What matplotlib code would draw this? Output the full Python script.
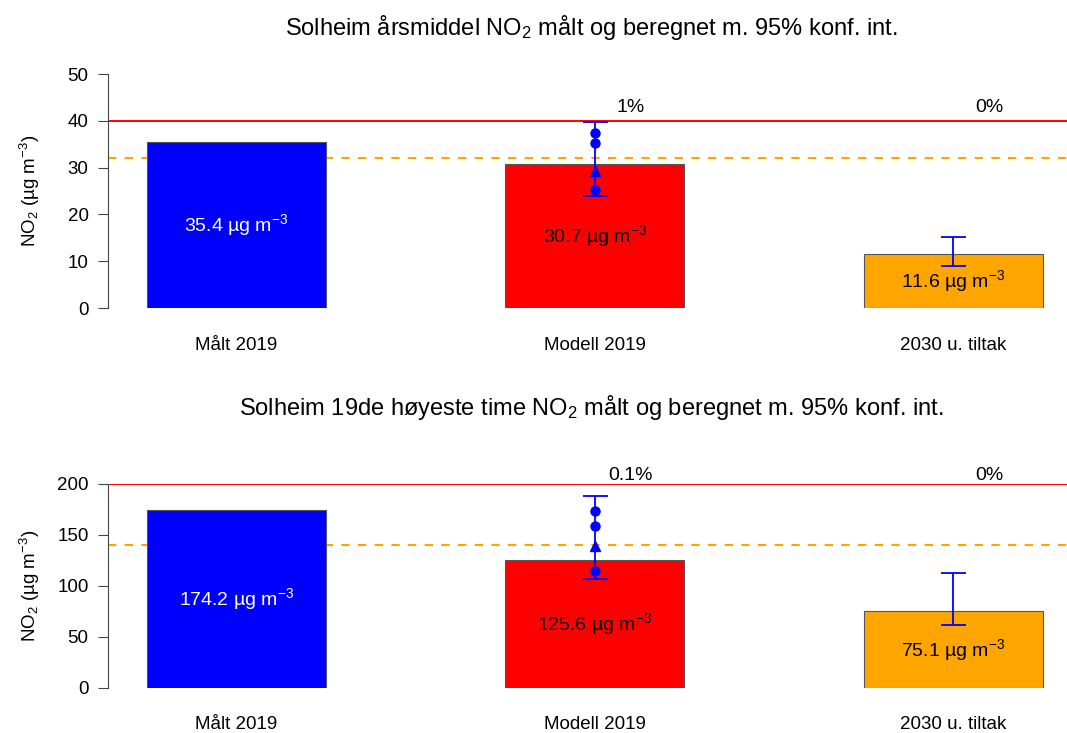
import numpy as np
import matplotlib.pyplot as plt

plt.rcParams['font.family'] = ['Liberation Sans', 'DejaVu Sans']
plt.rcParams['mathtext.fontset'] = 'custom'
plt.rcParams['mathtext.rm'] = 'Liberation Sans'
plt.rcParams['mathtext.it'] = 'Liberation Sans:italic'

categories = ["Målt 2019", "Modell 2019", "2030 u. tiltak"]
bar_colors = ["blue", "red", "orange"]
label_colors = ["white", "black", "black"]

# annual mean panel
annual_values = [35.4, 30.7, 11.6]
annual_ci_low = [None, 23.9, 9.0]
annual_ci_high = [None, 39.8, 15.2]
annual_circles = [37.5, 35.3, 25.2]
annual_triangle = 29.3
annual_limit = 40
annual_threshold = 32
annual_pct = ["1%", "0%"]

# 19th highest hour panel
hourly_values = [174.2, 125.6, 75.1]
hourly_ci_low = [None, 106.9, 61.5]
hourly_ci_high = [None, 188.2, 113.0]
hourly_circles = [173.8, 159.1, 114.7]
hourly_triangle = 139.2
hourly_limit = 200
hourly_threshold = 140
hourly_pct = ["0.1%", "0%"]

titles = [
    "Solheim årsmiddel NO$_2$ målt og beregnet m. 95% konf. int.",
    "Solheim 19de høyeste time NO$_2$ målt og beregnet m. 95% konf. int.",
]


def draw_panel(ax, values, ci_low, ci_high, circles, triangle, limit, threshold,
               pct, ymax, yticks, pct_y, xpad):
    x = np.arange(len(values))
    ax.bar(x, values, width=0.5, color=bar_colors, edgecolor="#555555", linewidth=0.8,
           zorder=2)
    ax.axhline(limit, color="red", lw=1.4, zorder=1)
    ax.axhline(threshold, color="orange", lw=1.5, ls=(0, (4, 4)), zorder=1)

    for i in (1, 2):
        mid = (ci_low[i] + ci_high[i]) / 2
        ax.errorbar(x[i], mid, yerr=[[mid - ci_low[i]], [ci_high[i] - mid]],
                    fmt="none", ecolor="blue", elinewidth=1.3, capsize=9,
                    capthick=1.3, zorder=3)
    ax.plot([x[1]] * len(circles), circles, "o", color="blue", ms=6.5, zorder=4)
    ax.plot([x[1]], [triangle], "^", color="blue", ms=6.5, zorder=4)

    for i, v in enumerate(values):
        ax.text(x[i], v / 2, f"{v:.1f} µg m$^{{-3}}$", ha="center", va="center",
                color=label_colors[i], fontsize=14, zorder=5)
    for i, p in zip((1, 2), pct):
        ax.text(x[i] + 0.1, pct_y, p, ha="center", va="center", fontsize=14)

    ax.set_xlim(-0.358, 2.317)
    ax.set_ylim(0, ymax)
    ax.set_yticks(yticks)
    ax.set_xticks(x)
    ax.set_xticklabels(categories, fontsize=13.5)
    ax.tick_params(axis="x", length=0, pad=xpad)
    ax.tick_params(axis="y", length=7, width=0.8, color="#444444", labelsize=13.5,
                   pad=7)
    for s in ("top", "right", "bottom"):
        ax.spines[s].set_visible(False)
    ax.spines["left"].set_color("#444444")
    ax.spines["left"].set_linewidth(0.8)
    ax.set_ylabel("NO$_2$ (µg m$^{-3}$)", fontsize=13.5)
    ax.yaxis.set_label_coords(-0.069, 0.5)


fig = plt.figure(figsize=(10.67, 7.33), dpi=100)
ax1 = fig.add_axes([0.1012, 0.5798, 0.8988, 0.3192])
ax2 = fig.add_axes([0.1012, 0.0614, 0.8988, 0.2783])

draw_panel(ax1, annual_values, annual_ci_low, annual_ci_high, annual_circles,
           annual_triangle, annual_limit, annual_threshold, annual_pct, 50,
           [0, 10, 20, 30, 40, 50], 42.8, 21)
draw_panel(ax2, hourly_values, hourly_ci_low, hourly_ci_high, hourly_circles,
           hourly_triangle, hourly_limit, hourly_threshold, hourly_pct, 200,
           [0, 50, 100, 150, 200], 208.8, 20)

fig.text(0.554, 1 - 28 / 733, titles[0], ha="center", va="center", fontsize=17)
fig.text(0.554, 1 - 407 / 733, titles[1], ha="center", va="center", fontsize=17)

fig.savefig("out.png", dpi=100)
